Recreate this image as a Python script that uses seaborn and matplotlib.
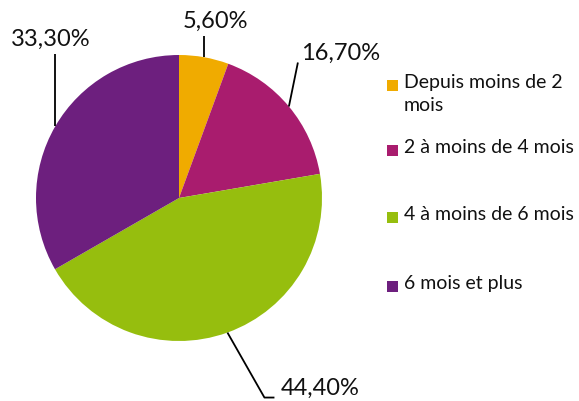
import numpy as np
import matplotlib
matplotlib.use("Agg")
import matplotlib.pyplot as plt
import seaborn as sns
from matplotlib.patches import Rectangle

# ---- data ----
categories = ["Depuis moins de 2\nmois", "2 à moins de 4 mois",
              "4 à moins de 6 mois", "6 mois et plus"]
values = [5.6, 16.7, 44.4, 33.3]
value_labels = ["5,60%", "16,70%", "44,40%", "33,30%"]
colors = ["#F0AB00", "#A91C6E", "#96BE0E", "#6D1F7E"]

sns.set_theme(style="white")
plt.rcParams["font.family"] = ["Lato", "DejaVu Sans"]

W, H = 579, 401
fig = plt.figure(figsize=(W / 100, H / 100), dpi=100)
ax = fig.add_axes([0, 0, 1, 1])

cx, cy, R = 179, H - 198, 143
wedges, _ = ax.pie(values, colors=colors, startangle=90, counterclock=False,
                   center=(cx, cy), radius=R, frame=True,
                   wedgeprops=dict(linewidth=0))
ax.set_xlim(0, W)
ax.set_ylim(0, H)
ax.set_aspect("equal")
ax.axis("off")

# leader lines: offsets (pixels, y down) from the wedge edge to label anchor
fr = np.array(values) / sum(values)
cum = np.cumsum(fr) - fr / 2
mid = np.deg2rad(90 - cum * 360)
line_offsets = [[(0, -21)], [(9, -44)], [(37, 65), (47, 65)], [(0, -72)]]
text_pos = [(215, 21), (341, 53), (320, 388), (51, 39)]
for i in range(len(values)):
    ex = cx + R * np.cos(mid[i])
    ey = cy + R * np.sin(mid[i])
    xs, ys = [ex], [ey]
    for dx, dy in line_offsets[i]:
        xs.append(ex + dx)
        ys.append(ey - dy)
    ax.plot(xs, ys, color="black", lw=1.3, solid_capstyle="butt")
    tx, ty = text_pos[i]
    ax.text(tx, H - ty, value_labels[i], ha="center", va="center",
            fontsize=17, color="#111111")

# legend
leg_y = [85, 150, 217, 286]
for lab, col, y in zip(categories, colors, leg_y):
    ax.add_patch(Rectangle((387, H - y - 5.5), 11, 11, facecolor=col,
                           edgecolor="none"))
    ax.text(404, H - y + 11, lab, ha="left", va="top", fontsize=14,
            color="#111111", linespacing=1.4)

fig.savefig("out.png", dpi=100)
